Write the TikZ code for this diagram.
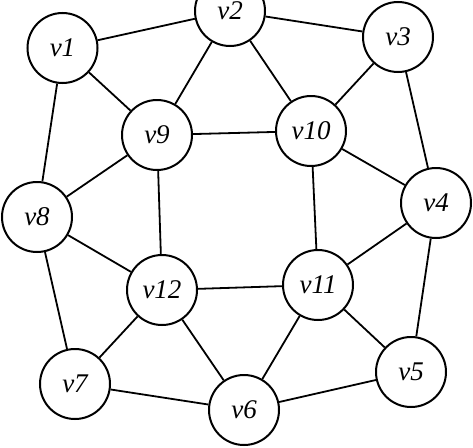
\documentclass[tikz,border=0pt]{standalone}
\usepackage{fontspec}
\setmainfont{Liberation Serif}
\begin{document}
\begin{tikzpicture}[x=1pt,y=-1pt,
  vert/.style={circle,draw,line width=2pt,fill=white,minimum size=70pt,inner sep=0pt,
    font=\fontsize{27}{27}\selectfont\itshape},
  edge/.style={line width=1.8pt}]
\clip (0,0) rectangle (473,447);
\useasboundingbox (0,0) rectangle (473,447);
\node[vert] (v1) at (62.5,48) {v1};
\node[vert] (v2) at (230,11) {v2};
\node[vert] (v3) at (398,37) {v3};
\node[vert] (v4) at (436,203) {v4};
\node[vert] (v5) at (411,372) {v5};
\node[vert] (v6) at (244,410) {v6};
\node[vert] (v7) at (75,384) {v7};
\node[vert] (v8) at (37,217) {v8};
\node[vert] (v9) at (157,135) {v9};
\node[vert] (v10) at (311,131) {v10};
\node[vert] (v11) at (318,285) {v11};
\node[vert] (v12) at (162,290) {v12};
\foreach \a/\b in {v1/v2,v2/v3,v1/v9,v1/v8,v2/v9,v2/v10,v3/v10,v3/v4,v9/v10,v9/v8,v9/v12,v10/v4,v10/v11,v8/v12,v8/v7,v4/v11,v4/v5,v12/v11,v12/v7,v12/v6,v11/v6,v11/v5,v7/v6,v6/v5}
  \draw[edge] (\a) -- (\b);
\end{tikzpicture}
\end{document}
